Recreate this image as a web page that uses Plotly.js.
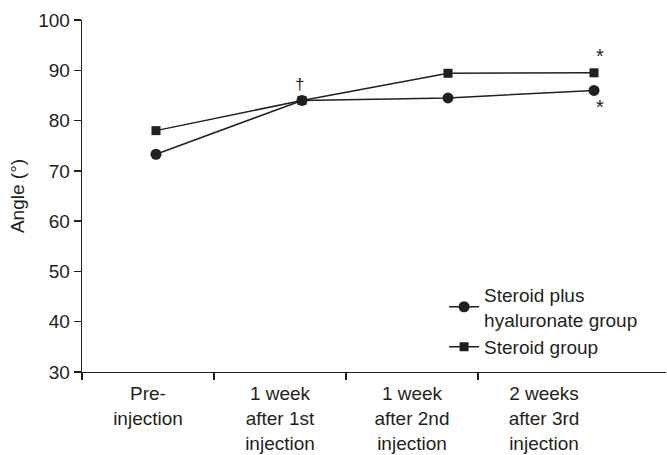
<!DOCTYPE html>
<html>
<head>
<meta charset="utf-8">
<script src="https://cdn.plot.ly/plotly-3.0.1.min.js"></script>
<style>html,body{margin:0;padding:0;background:#fff;}#chart{width:667px;height:455px;}</style>
</head>
<body>
<div id="chart"></div>
<script>
const categories = ["Pre-<br>injection", "1 week<br>after 1st<br>injection", "1 week<br>after 2nd<br>injection", "2 weeks<br>after 3rd<br>injection"];
const hyaluronateValues = [73.3, 84.0, 84.5, 86.0];
const steroidValues = [78.0, 84.0, 89.4, 89.5];
const seriesNames = ["Steroid plus<br>hyaluronate group", "Steroid group"];
const yTicks = [30, 40, 50, 60, 70, 80, 90, 100];

const idx = categories.map((_, i) => i);
const font = {family: "Liberation Sans, Arial, sans-serif", size: 19, color: "#231f20"};

const traces = [
  {x: [0], y: [null], xaxis: "x", yaxis: "y", type: "scatter", mode: "markers", showlegend: false, hoverinfo: "skip"},
  {x: idx, y: hyaluronateValues, name: seriesNames[0], xaxis: "x2", yaxis: "y", type: "scatter", mode: "lines+markers",
   line: {color: "#231f20", width: 1.5}, marker: {symbol: "circle", size: 11, color: "#231f20"}},
  {x: idx, y: steroidValues, name: seriesNames[1], xaxis: "x2", yaxis: "y", type: "scatter", mode: "lines+markers",
   line: {color: "#231f20", width: 1.5}, marker: {symbol: "square", size: 9, color: "#231f20"}}
];

const layout = {
  width: 667, height: 455,
  margin: {l: 82, r: 1, t: 20, b: 83},
  paper_bgcolor: "#fff", plot_bgcolor: "#fff",
  font: font,
  showlegend: true,
  legend: {x: 0.62, y: 0.274, xanchor: "left", yanchor: "top", bgcolor: "rgba(0,0,0,0)",
           font: {family: font.family, size: 19, color: "#231f20"}, tracegroupgap: 0, itemwidth: 30},
  xaxis: {
    range: [0, 584 / 132], showgrid: false, zeroline: false, showline: true, linecolor: "#231f20", linewidth: 1.3,
    tickmode: "array", tickvals: categories.map((_, i) => i + 0.5), ticktext: categories, ticks: "",
    tickfont: font, fixedrange: true, ticklabelstandoff: 4,
    minor: {tickmode: "array", tickvals: [0, 1, 2, 3], ticks: "outside", ticklen: 7, tickwidth: 1.3, tickcolor: "#231f20"}
  },
  xaxis2: {overlaying: "x", anchor: "y", range: [-74 / 146, 510 / 146], visible: false, fixedrange: true},
  yaxis: {
    range: [30, 100], tickmode: "array", tickvals: yTicks, showgrid: false, zeroline: false,
    showline: true, linecolor: "#231f20", linewidth: 1.3, ticks: "outside", ticklen: 7, tickwidth: 1.3, tickcolor: "#231f20",
    tickfont: font, title: {text: "Angle (°)", font: font, standoff: 8}, fixedrange: true
  },
  annotations: [
    {xref: "x2", yref: "y", x: idx[1], y: steroidValues[1], text: "†", showarrow: false, yshift: 16, xshift: -3, font: {family: font.family, size: 17, color: "#231f20"}},
    {xref: "x2", yref: "y", x: idx[3], y: steroidValues[3], text: "*", showarrow: false, yshift: 17, xshift: 6, font: {family: font.family, size: 20, color: "#231f20"}},
    {xref: "x2", yref: "y", x: idx[3], y: hyaluronateValues[3], text: "*", showarrow: false, yshift: -17, xshift: 6, font: {family: font.family, size: 20, color: "#231f20"}}
  ]
};

Plotly.newPlot("chart", traces, layout, {displayModeBar: false, staticPlot: true});
</script>
</body>
</html>
